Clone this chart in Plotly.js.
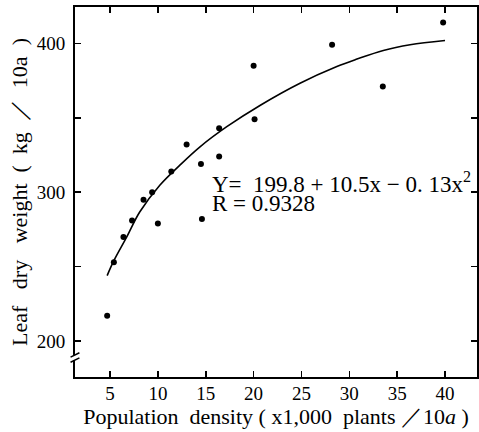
<!DOCTYPE html>
<html>
<head>
<meta charset="utf-8">
<script src="https://cdn.plot.ly/plotly-3.0.1.min.js"></script>
<style>
html, body { margin: 0; padding: 0; background: #fff; }
#chart { width: 479px; height: 432px; }
</style>
</head>
<body>
<div id="chart"></div>
<script>
// Observed data points (population density, leaf dry weight)
const densityPts = [4.7, 5.4, 6.4, 7.3, 8.5, 9.4, 10.0, 11.4, 13.0, 14.5, 14.6, 16.4, 16.4, 20.0, 20.1, 28.2, 33.5, 39.8];
const weightPts  = [217, 253, 270, 281, 295, 300, 279, 314, 332, 319, 282, 343, 324, 385, 349, 399, 371, 414];

// Fitted curve
const curveX = [4.7, 5.4, 6.75, 8.1, 10.2, 12.3, 14.4, 17.2, 20.75, 24.85, 28.7, 30.8, 33.55, 36.35, 40.0];
const curveY = [244, 254, 270, 286.7, 304.7, 318.2, 330.5, 344, 358.6, 373.2, 384.4, 389.4, 395.2, 399, 401.9];

const xTickVals = [5, 10, 15, 20, 25, 30, 35, 40];
const xTickText = ['5', '10', '15', '20', '25', '30', '35', '40'];
const yTickVals = [200, 250, 300, 350, 400];
const yTickText = ['200', ' ', '300', ' ', '400'];

const FONT = 'Liberation Serif, Times New Roman, serif';

const traces = [
  {
    x: curveX, y: curveY, mode: 'lines', type: 'scatter',
    line: { color: '#000', width: 1.6, shape: 'spline' },
    hoverinfo: 'skip', showlegend: false
  },
  {
    x: densityPts, y: weightPts, mode: 'markers', type: 'scatter',
    marker: { color: '#000', size: 6 },
    showlegend: false
  }
];

const axisCommon = {
  showline: true, linecolor: '#000', linewidth: 2, mirror: 'ticks',
  ticks: 'inside', ticklen: 6, tickwidth: 1.5, tickcolor: '#000',
  showgrid: false, zeroline: false,
  tickfont: { family: FONT, size: 19, color: '#000' }
};

const layout = {
  width: 479, height: 432,
  margin: { l: 75, r: 2, t: 7, b: 55 },
  paper_bgcolor: '#fff', plot_bgcolor: '#fff',
  xaxis: Object.assign({}, axisCommon, {
    range: [1.34, 43.34],
    tickvals: xTickVals, ticktext: xTickText,
    ticklabelstandoff: -2,
    title: { text: 'Population  density ( x1,000  plants ／10<i>a</i> )', font: { family: FONT, size: 22, color: '#000' }, standoff: 0 }
  }),
  yaxis: Object.assign({}, axisCommon, {
    range: [175.9, 424.4],
    tickvals: yTickVals, ticktext: yTickText,
    ticklabelstandoff: 4,
    title: { text: 'Leaf   dry   weight  (  kg  ／  10a  )', font: { family: FONT, size: 22, color: '#000' }, standoff: 3 }
  }),
  annotations: [
    { xref: 'paper', yref: 'paper', x: (210 - 75) / 402, y: (432 - 55 - 182) / 370, xanchor: 'left', yanchor: 'middle',
      text: 'Y=  199.8 + 10.5x − 0. 13x<sup>2</sup>', showarrow: false, font: { family: FONT, size: 23, color: '#000' } },
    { xref: 'paper', yref: 'paper', x: (210 - 75) / 402, y: (432 - 55 - 203.5) / 370, xanchor: 'left', yanchor: 'middle',
      text: 'R = 0.9328', showarrow: false, font: { family: FONT, size: 23, color: '#000' } }
  ],
  shapes: [
    { type: 'line', xref: 'paper', yref: 'y', x0: 0, x1: 0, y0: 187.3, y1: 190.7, line: { color: '#fff', width: 4 } },
    { type: 'line', xref: 'paper', yref: 'y', x0: -0.011, x1: 0.011, y0: 189.3, y1: 192.2, line: { color: '#000', width: 1.5 } },
    { type: 'line', xref: 'paper', yref: 'y', x0: -0.011, x1: 0.011, y0: 185.8, y1: 188.7, line: { color: '#000', width: 1.5 } }
  ]
};

Plotly.newPlot('chart', traces, layout, { displayModeBar: false, staticPlot: true });
</script>
</body>
</html>
